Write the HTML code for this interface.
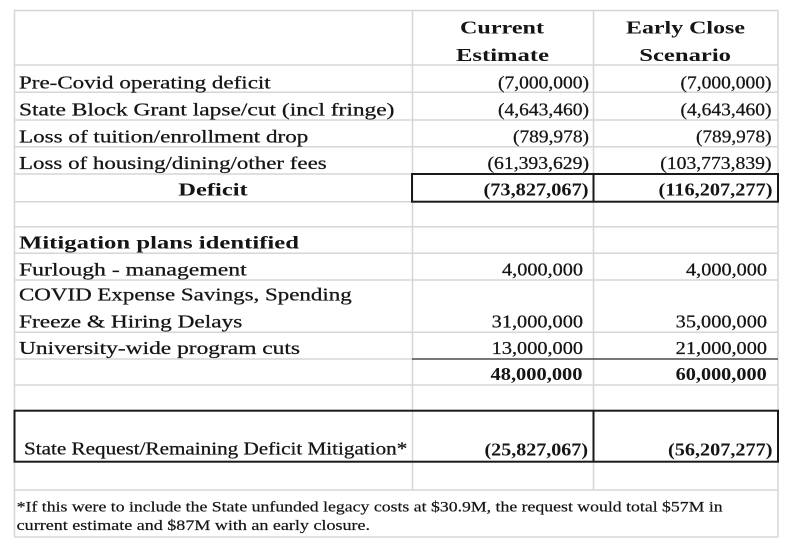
<!DOCTYPE html>
<html>
<head>
<meta charset="utf-8">
<style>
  html,body{margin:0;padding:0;background:#fff;}
  svg{display:block;}
  text{font-family:"Liberation Serif","DejaVu Serif",serif;fill:#151515;}
  .r{font-size:17.5px;stroke:#151515;stroke-width:0.25px;}
  .b{font-size:17.5px;font-weight:bold;}
  .h{font-size:18px;font-weight:bold;}
  .f{font-size:14.5px;stroke:#151515;stroke-width:0.2px;}
</style>
</head>
<body>
<svg width="794" height="556" viewBox="0 0 794 556" xmlns="http://www.w3.org/2000/svg">
  <rect x="0" y="0" width="794" height="556" fill="#fff"/>
  <!-- light grid -->
  <g stroke="#d6d6d6" stroke-width="1.5" fill="none">
    <line x1="14.5" y1="10" x2="14.5" y2="537"/>
    <line x1="778" y1="10" x2="778" y2="537"/>
    <line x1="412.5" y1="10" x2="412.5" y2="490"/>
    <line x1="593.5" y1="10" x2="593.5" y2="490"/>
    <line x1="14" y1="10.5" x2="778" y2="10.5"/>
    <line x1="14" y1="65" x2="778" y2="65"/>
    <line x1="14" y1="92.3" x2="778" y2="92.3"/>
    <line x1="14" y1="120" x2="778" y2="120"/>
    <line x1="14" y1="146.7" x2="778" y2="146.7"/>
    <line x1="14" y1="174" x2="778" y2="174"/>
    <line x1="14" y1="201.7" x2="778" y2="201.7"/>
    <line x1="14" y1="226.7" x2="778" y2="226.7"/>
    <line x1="14" y1="253.3" x2="778" y2="253.3"/>
    <line x1="14" y1="280" x2="778" y2="280"/>
    <line x1="14" y1="332.3" x2="778" y2="332.3"/>
    <line x1="14" y1="359" x2="412" y2="359"/>
    <line x1="14" y1="385" x2="778" y2="385"/>
    <line x1="14" y1="490" x2="778" y2="490"/>
    <line x1="14" y1="537" x2="778" y2="537"/>
  </g>
  <!-- dark underline above totals -->
  <line x1="412" y1="359" x2="778" y2="359" stroke="#4a4a4a" stroke-width="1.6"/>
  <!-- boxes -->
  <g stroke="#1a1a1a" stroke-width="2" fill="none">
    <rect x="412" y="174" width="366" height="27.7"/>
    <line x1="593.5" y1="174" x2="593.5" y2="201.7"/>
    <rect x="14.5" y="410.7" width="763.5" height="51"/>
    <line x1="593.5" y1="410.7" x2="593.5" y2="461.7"/>
  </g>

  <!-- header -->
  <text class="h" x="460" y="33.3" textLength="84" lengthAdjust="spacingAndGlyphs">Current</text>
  <text class="h" x="456" y="61" textLength="93" lengthAdjust="spacingAndGlyphs">Estimate</text>
  <text class="h" x="626" y="33.3" textLength="119" lengthAdjust="spacingAndGlyphs">Early Close</text>
  <text class="h" x="639.3" y="61" textLength="91.7" lengthAdjust="spacingAndGlyphs">Scenario</text>

  <!-- left labels -->
  <text class="r" x="19" y="88.7" textLength="251.7" lengthAdjust="spacingAndGlyphs">Pre-Covid operating deficit</text>
  <text class="r" x="19" y="115.7" textLength="375.5" lengthAdjust="spacingAndGlyphs">State Block Grant lapse/cut (incl fringe)</text>
  <text class="r" x="19" y="142.3" textLength="289.3" lengthAdjust="spacingAndGlyphs">Loss of tuition/enrollment drop</text>
  <text class="r" x="19" y="169" textLength="307.7" lengthAdjust="spacingAndGlyphs">Loss of housing/dining/other fees</text>
  <text class="b" x="178.3" y="195.5" textLength="69.4" lengthAdjust="spacingAndGlyphs">Deficit</text>

  <text class="b" x="19" y="248.5" textLength="280" lengthAdjust="spacingAndGlyphs">Mitigation plans identified</text>
  <text class="r" x="19" y="275.5" textLength="227.7" lengthAdjust="spacingAndGlyphs">Furlough - management</text>
  <text class="r" x="19" y="300.5" textLength="332.7" lengthAdjust="spacingAndGlyphs">COVID Expense Savings, Spending</text>
  <text class="r" x="19" y="327.3" textLength="223.3" lengthAdjust="spacingAndGlyphs">Freeze &amp; Hiring Delays</text>
  <text class="r" x="19" y="354" textLength="281" lengthAdjust="spacingAndGlyphs">University-wide program cuts</text>

  <text class="r" x="24" y="454.5" textLength="383.3" lengthAdjust="spacingAndGlyphs">State Request/Remaining Deficit Mitigation*</text>

  <g text-anchor="end">
    <!-- column 2 numbers -->
    <text class="r" x="589" y="88.7" textLength="91" lengthAdjust="spacingAndGlyphs">(7,000,000)</text>
    <text class="r" x="589" y="115.7" textLength="91" lengthAdjust="spacingAndGlyphs">(4,643,460)</text>
    <text class="r" x="589" y="142.3" textLength="76" lengthAdjust="spacingAndGlyphs">(789,978)</text>
    <text class="r" x="589" y="169" textLength="101.5" lengthAdjust="spacingAndGlyphs">(61,393,629)</text>
    <text class="b" x="588.5" y="195.5" textLength="105" lengthAdjust="spacingAndGlyphs">(73,827,067)</text>

    <text class="r" x="583" y="275.5" textLength="81" lengthAdjust="spacingAndGlyphs">4,000,000</text>
    <text class="r" x="583" y="327.3" textLength="91.3" lengthAdjust="spacingAndGlyphs">31,000,000</text>
    <text class="r" x="583" y="354" textLength="91.3" lengthAdjust="spacingAndGlyphs">13,000,000</text>
    <text class="b" x="582.5" y="380" textLength="92" lengthAdjust="spacingAndGlyphs">48,000,000</text>
    <text class="b" x="588" y="455.7" textLength="103.5" lengthAdjust="spacingAndGlyphs">(25,827,067)</text>

    <!-- column 3 numbers -->
    <text class="r" x="771.5" y="88.7" textLength="91" lengthAdjust="spacingAndGlyphs">(7,000,000)</text>
    <text class="r" x="771.5" y="115.7" textLength="91" lengthAdjust="spacingAndGlyphs">(4,643,460)</text>
    <text class="r" x="771.5" y="142.3" textLength="75.5" lengthAdjust="spacingAndGlyphs">(789,978)</text>
    <text class="r" x="771.5" y="169" textLength="111.2" lengthAdjust="spacingAndGlyphs">(103,773,839)</text>
    <text class="b" x="772.5" y="195.5" textLength="114" lengthAdjust="spacingAndGlyphs">(116,207,277)</text>

    <text class="r" x="767" y="275.5" textLength="81" lengthAdjust="spacingAndGlyphs">4,000,000</text>
    <text class="r" x="767" y="327.3" textLength="91.3" lengthAdjust="spacingAndGlyphs">35,000,000</text>
    <text class="r" x="767" y="354" textLength="91.3" lengthAdjust="spacingAndGlyphs">21,000,000</text>
    <text class="b" x="766.7" y="380" textLength="91" lengthAdjust="spacingAndGlyphs">60,000,000</text>
    <text class="b" x="772.5" y="455.7" textLength="104.5" lengthAdjust="spacingAndGlyphs">(56,207,277)</text>
  </g>

  <!-- footnote -->
  <text class="f" x="16.7" y="511.7" textLength="706" lengthAdjust="spacingAndGlyphs">*If this were to include the State unfunded legacy costs at $30.9M, the request would total $57M in</text>
  <text class="f" x="16.7" y="530" textLength="353.3" lengthAdjust="spacingAndGlyphs">current estimate and $87M with an early closure.</text>
</svg>
</body>
</html>
